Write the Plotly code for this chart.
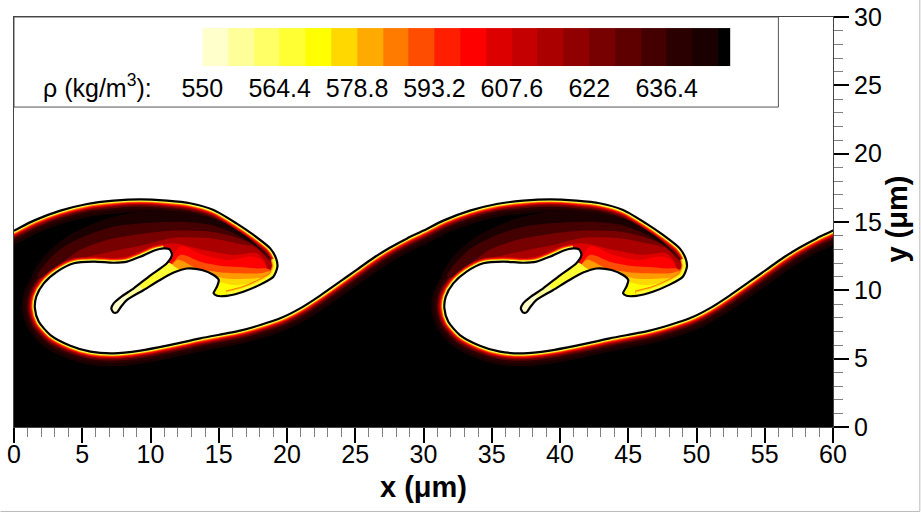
import plotly.graph_objects as go

# density legend
levels = [550 + 4.8 * i for i in range(21)] + [648.3]
level_colors = ['#FFFFCC', '#FFFF99', '#FFFF66', '#FFFF33', '#FFFF00', '#FFD800', '#FFAA00',
                '#FF7B00', '#FF4D00', '#FF1F00', '#FF0000', '#DD0000', '#C40000', '#AA0000',
                '#910000', '#770000', '#5E0000', '#440000', '#2B0000', '#1A0000', '#000000']
label_vals = [550, 564.4, 578.8, 593.2, 607.6, 622, 636.4]
label_text = ['550', '564.4', '578.8', '593.2', '607.6', '622', '636.4']

# interface read over one 30 um period
PERIOD = 30
iface_x = [0, 1.45, 3.4, 5.36, 7.3, 9.26, 11.2, 12.9, 14.62, 16.3, 17.55, 18.77, 19.2, 19.3, 19.0, 18.0,
           16.8, 15.6, 14.87, 14.62, 14.87, 15.0, 14.62, 13.77, 12.67, 11.7, 10.7, 9.5, 8.28, 7.84,
           7.55, 7.3, 7.13, 7.3, 7.8, 8.77, 10, 11.2, 11.57, 11.4, 10.96, 10.23, 9.26, 8.28, 7.3, 5.85,
           4.38, 3.16, 2.18, 1.63, 1.53, 1.82, 2.67, 4.13, 5.6, 7.3, 9.26, 11.2, 13.65, 16.57, 18.04, 19.5,
           20.96, 22.4, 23.9, 25.1, 26.3, 27.5, 28.8]
iface_y = [14.37, 15.1, 15.83, 16.32, 16.56, 16.66, 16.56, 16.37, 15.88, 14.9, 14.05, 13.07, 12.34, 11.73,
           11.0, 10.4, 9.9, 9.6, 9.6, 9.78, 10.27, 10.75, 11.12, 11.49, 11.6, 11.3, 10.76, 10.02,
           9.3, 8.8, 8.39, 8.37, 8.68, 9.05, 9.49, 10.15, 11.1, 11.98, 12.59, 13.0, 13.07, 12.9, 12.46,
           12.1, 12.02, 12.1, 11.98, 11.37, 10.51, 9.54, 8.68, 7.7, 6.73, 5.95, 5.51, 5.39, 5.59, 5.95,
           6.49, 7.05, 7.46, 7.95, 8.68, 9.6, 10.65, 11.5, 12.35, 13.1, 13.8]
TIP_START = 12      # thick warm rim of the lobe starts here
CREST_END = 18      # lobe tip side ends here
BUBBLE_START = 40   # spike ends here

# density contours inside the rolled-up lobe
lobe1_x = [1.33, 2.18, 3.89, 6.33, 9.26, 12.67, 14.86, 17.06, 18.52, 19.74, 18.52, 14.62, 11.2, 6.33, 3.16]
lobe1_y = [11.0, 12.46, 13.93, 15.09, 15.76, 15.63, 15.2, 13.93, 12.59, 11.24, 9.78, 9.54, 10.76, 11.49, 11.12]
lobe2_x = [1.7, 3.16, 5.11, 7.3, 9.99, 12.67, 14.62, 16.08, 17.3, 18.28, 19.74, 18.52, 14.62, 11.2, 6.33, 3.16]
lobe2_y = [11.0, 12.83, 13.93, 14.66, 14.95, 15.0, 14.75, 14.2, 13.5, 12.8, 11.24, 9.78, 9.54, 10.76, 11.49, 11.12]
lobe3_x = [3.16, 4.62, 6.82, 8.77, 11.2, 14.38, 16.08, 17.55, 18.52, 19.74, 18.52, 14.62, 11.2, 6.33]
lobe3_y = [11.49, 12.83, 13.68, 14.05, 14.35, 14.29, 13.93, 13.32, 12.47, 11.24, 9.78, 9.54, 10.76, 11.49]
lobe4_x = [4.87, 7.06, 9.5, 11.7, 14.38, 16.33, 17.79, 18.65, 19.74, 18.52, 14.62, 11.2, 6.33]
lobe4_y = [12.22, 12.83, 13.32, 13.85, 13.81, 13.44, 13.07, 12.22, 11.24, 9.78, 9.54, 10.76, 11.49]
lobe5_x = [6.33, 8.77, 11.45, 13.89, 16.08, 17.79, 18.4, 18.65, 19.74, 18.52, 14.62, 11.2]
lobe5_y = [11.98, 12.59, 13.44, 12.95, 12.59, 12.71, 12.1, 11.49, 11.0, 9.78, 9.54, 10.76]
lobe6_x = [12.18, 13.89, 15.84, 17.3, 18.16, 18.52, 18.77, 18.5, 14.62, 11.2]
lobe6_y = [13.2, 12.59, 12.22, 12.47, 12.22, 11.61, 11.25, 9.8, 9.54, 10.76]
lobe7_x = [12.18, 13.65, 15.11, 16.57, 17.79, 18.52, 18.89, 19.01, 14.62, 11.2]
lobe7_y = [12.59, 12.1, 11.8, 11.7, 11.6, 11.6, 11.4, 9.78, 9.41, 10.76]
lobe8_x = [11.94, 13.4, 14.87, 16.33, 18.04, 18.77, 19.0, 19.01, 14.62, 11.2]
lobe8_y = [12.22, 11.61, 11.35, 11.25, 11.25, 11.4, 11.2, 9.78, 9.41, 10.76]
lobe9_x = [11.57, 12.67, 14.87, 15.72, 17.06, 18.28, 18.89, 19.01, 14.62, 13.65]
lobe9_y = [12.1, 11.49, 11.0, 10.85, 10.85, 10.95, 11.2, 9.66, 9.41, 10.76]
lobe10_x = [11.57, 12.67, 15.11, 16.08, 17.3, 18.3, 18.8, 19.01, 14.62, 13.65, 11.2]
lobe10_y = [11.73, 11.24, 10.6, 10.39, 10.5, 10.9, 11.1, 9.54, 9.29, 10.76, 10.76]
tail1_x = [11.7, 12.0, 9.0, 7.0, 6.9, 9.5, 11.0]
tail1_y = [11.8, 11.2, 9.3, 8.0, 9.2, 11.0, 12.1]
tail2_x = [9.3, 9.5, 8.0, 7.0, 6.9, 9.0]
tail2_y = [10.2, 10.0, 8.6, 8.0, 9.5, 10.7]
tail3_x = [8.3, 7.0, 6.9, 8.0]
tail3_y = [9.5, 8.0, 9.3, 10.1]

contours = [(lobe1_x, lobe1_y, '#1A0000'), (lobe2_x, lobe2_y, '#440000'), (lobe3_x, lobe3_y, '#770000'),
            (lobe4_x, lobe4_y, '#AA0000'), (lobe5_x, lobe5_y, '#DD0000'), (lobe6_x, lobe6_y, '#FF0000'),
            (lobe7_x, lobe7_y, '#FF4D00'), (lobe8_x, lobe8_y, '#FF9A00'), (lobe9_x, lobe9_y, '#FFD800'),
            (lobe10_x, lobe10_y, '#FFFF00'), (tail1_x, tail1_y, '#FFFF33'), (tail2_x, tail2_y, '#FFFF99'),
            (tail3_x, tail3_y, '#FFFFCC')]

# halo around the interface, (px width, colour), widest first
dark_bands = [(26, '#1A0000'), (20, '#2B0000'), (15, '#5E0000'), (12, '#910000')]
light_bands = [(9.5, '#DD0000'), (7.5, '#FF1F00'), (6, '#FF7B00'), (4.8, '#FFD800'), (3.8, '#FFFF66')]
tip_bands = [(11, '#FF7B00'), (9, '#FFD800'), (7, '#FFFF33')]


def shifted(vals, dx):
    return [v + dx for v in vals]


def add_shape_trace(fig, x, y, color, smooth=0.8):
    fig.add_trace(go.Scatter(x=x, y=y, mode='lines', fill='toself', fillcolor=color,
                             line=dict(color=color, width=0, shape='spline', smoothing=smooth),
                             hoverinfo='skip', showlegend=False))


def add_line_trace(fig, x, y, color, width):
    fig.add_trace(go.Scatter(x=x, y=y, mode='lines',
                             line=dict(color=color, width=width, shape='spline', smoothing=0.7),
                             hoverinfo='skip', showlegend=False))


# whole interface over the plot, one period spare on each side
shifts = [-PERIOD, 0, PERIOD, 2 * PERIOD]
all_x, all_y = [], []
for s in shifts:
    all_x += shifted(iface_x, s)
    all_y += iface_y

# outer part only, the spike and the underside of the lobe are left out
outer_x, outer_y = [], []
tip_x, tip_y = [], []
for s in shifts:
    outer_x += shifted(iface_x[BUBBLE_START:], s) + shifted(iface_x[:CREST_END], s + PERIOD) + [None]
    outer_y += iface_y[BUBBLE_START:] + iface_y[:CREST_END] + [None]
    tip_x += shifted(iface_x[TIP_START:CREST_END], s) + [None]
    tip_y += iface_y[TIP_START:CREST_END] + [None]

fig = go.Figure()

# heavy fluid, black up to the interface
add_shape_trace(fig, all_x + [all_x[-1], all_x[0]], all_y + [-6, -6], '#000000', 0.7)
for w, c in dark_bands:
    add_line_trace(fig, all_x, all_y, c, w)
for s in [0, PERIOD]:
    for cx, cy, c in contours:
        add_shape_trace(fig, shifted(cx, s) + [cx[0] + s], cy + [cy[0]], c)
for w, c in light_bands:
    add_line_trace(fig, outer_x, outer_y, c, w)
for w, c in tip_bands:
    add_line_trace(fig, tip_x, tip_y, c, w)
# light fluid on top
add_shape_trace(fig, all_x + [all_x[-1], all_x[0]], all_y + [36, 36], '#FFFFFF', 0.7)
add_line_trace(fig, all_x, all_y, '#000000', 2.2)

# legend colour strip
fig.add_trace(go.Heatmap(x=levels, y=[0, 1], z=[list(range(len(level_colors)))],
                         xaxis='x2', yaxis='y2', zmin=-0.5, zmax=len(level_colors) - 0.5, showscale=False,
                         colorscale=[[(i + k) / len(level_colors), c] for i, c in enumerate(level_colors) for k in (0, 1)],
                         hoverinfo='skip'))

tick_font = dict(family='Liberation Sans', size=25, color='black')
title_font = dict(family='Liberation Sans', size=29, color='black')
minor_ticks = dict(ticks='outside', ticklen=9, tickcolor='#808080', tickwidth=1, dtick=1, showgrid=False)

fig.update_layout(
    width=921, height=512, autosize=False,
    margin=dict(l=13.5, r=87.5, t=17, b=85, autoexpand=False),
    paper_bgcolor='white', plot_bgcolor='white',
    font=dict(family='Liberation Sans', color='black'),
    xaxis=dict(range=[0, 60], tickvals=list(range(0, 61, 5)), ticks='outside', ticklen=15, tickwidth=1.5,
               tickcolor='black', tickfont=tick_font, showgrid=False, zeroline=False, minor=minor_ticks,
               showline=True, linecolor='#444444', linewidth=1, mirror=True, automargin=False,
               ticklabelstandoff=-10),
    yaxis=dict(range=[0, 30], side='right', tickvals=list(range(0, 31, 5)), ticks='outside', ticklen=15,
               tickwidth=1.5, tickcolor='black', tickfont=tick_font, showgrid=False, zeroline=False,
               minor=minor_ticks, showline=True, linecolor='#444444', linewidth=1, mirror=True, automargin=False),
    xaxis2=dict(domain=[0.2299, 0.875], range=[550, 648.3], anchor='y2', tickvals=label_vals, ticktext=label_text,
                ticks='', tickfont=tick_font, showgrid=False, zeroline=False, showline=False, ticklabelstandoff=5,
                automargin=False),
    yaxis2=dict(domain=[0.88, 0.973], range=[0, 1], anchor='x2', showticklabels=False, ticks='',
                showgrid=False, zeroline=False, showline=False, automargin=False),
    shapes=[
        dict(type='rect', xref='x', yref='y', x0=0, x1=56, y0=23.41, y1=30, line=dict(color='#555555', width=1)),
        dict(type='line', xref='paper', yref='paper', x0=-0.0165, x1=1.106, y0=-0.206, y1=-0.206,
             line=dict(color='#BBBBBB', width=1)),
        dict(type='line', xref='paper', yref='paper', x0=1.106, x1=1.106, y0=-0.206, y1=1.0415,
             line=dict(color='#BBBBBB', width=1)),
    ],
    annotations=[
        dict(text='ρ (kg/m<sup>3</sup>):', xref='paper', yref='paper', x=0.0335, y=0.832, xanchor='left',
             yanchor='middle', showarrow=False, font=dict(family='Liberation Sans', size=25, color='black')),
        dict(text='<b>x (μm)</b>', xref='paper', yref='paper', x=0.5, y=-0.146, xanchor='center',
             yanchor='middle', showarrow=False, font=title_font),
        dict(text='<b>y (μm)</b>', xref='paper', yref='paper', x=1.078, y=0.508, xanchor='center',
             yanchor='middle', showarrow=False, textangle=-90, font=title_font),
    ],
)

fig.write_html("out.html", config=dict(displayModeBar=False), post_script="document.body.style.margin='0';")
